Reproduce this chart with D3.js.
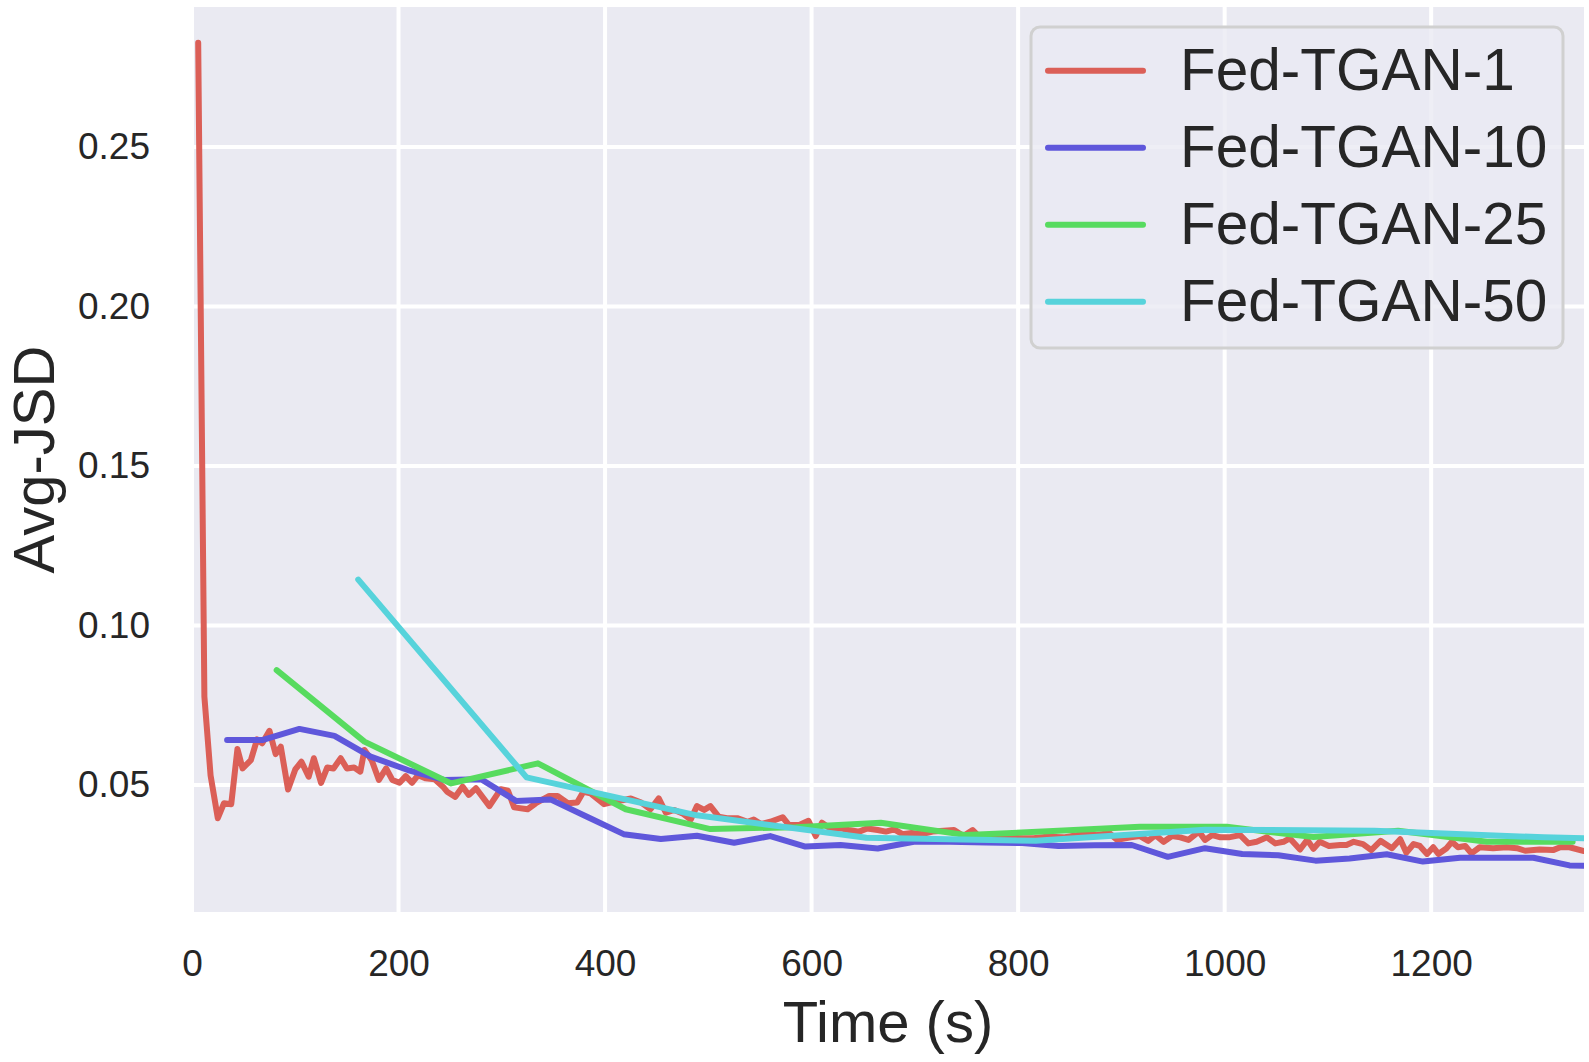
<!DOCTYPE html>
<html>
<head>
<meta charset="utf-8">
<script src="https://cdn.jsdelivr.net/npm/d3@7"></script>
<style>
    body { margin: 0; background: #ffffff; }
    svg { display: block; font-family: "Liberation Sans", Arial, sans-serif; }
    .tick text { fill: #262626; }
</style>
</head>
<body>
<svg id="chart" width="1589" height="1062"></svg>
<script>
// Fed-TGAN-1 (one point every few seconds)
const timeTgan1 = [6, 12, 18, 25, 31, 38, 44, 49, 57, 63, 68, 75, 81, 86, 93, 100, 106, 113, 118, 125,
    131, 137, 144, 150, 157, 163, 167, 174, 181, 188, 194, 201, 207, 213, 219, 226, 235, 243, 247, 255,
    262, 268, 275, 288, 299, 306, 312, 325, 333, 346, 354, 364, 373, 379, 386, 399, 409, 418, 425, 435,
    444, 452, 459, 467, 475, 483, 489, 496, 502, 510, 518, 528, 538, 544, 551, 560, 572, 578, 588, 597,
    604, 610, 618, 628, 636, 646, 654, 664, 672, 680, 688, 697, 707, 717, 728, 738, 747, 756, 763, 776,
    789, 805, 815, 828, 844, 857, 876, 888, 896, 909, 918, 926, 933, 941, 949, 957, 965, 975, 981, 988,
    996, 1004, 1015, 1023, 1031, 1041, 1049, 1057, 1063, 1073, 1080, 1086, 1092, 1101, 1112, 1118, 1125, 1134, 1142, 1151,
    1162, 1170, 1176, 1183, 1189, 1196, 1202, 1207, 1215, 1220, 1226, 1233, 1239, 1247, 1260, 1273, 1283, 1291, 1305, 1318,
    1325, 1334, 1348];
const jsdTgan1 = [0.2827, 0.0777, 0.0530, 0.0396, 0.0443, 0.0440, 0.0613, 0.0552, 0.0578, 0.0643, 0.0631, 0.0670, 0.0597, 0.0620, 0.0486, 0.0549, 0.0573, 0.0526, 0.0584, 0.0507,
    0.0555, 0.0552, 0.0584, 0.0552, 0.0555, 0.0542, 0.0610, 0.0578, 0.0516, 0.0552, 0.0516, 0.0507, 0.0528, 0.0507, 0.0531, 0.0521, 0.0518, 0.0495, 0.0479, 0.0463,
    0.0495, 0.0469, 0.0490, 0.0434, 0.0487, 0.0482, 0.0430, 0.0424, 0.0443, 0.0466, 0.0466, 0.0443, 0.0445, 0.0479, 0.0474, 0.0440, 0.0448, 0.0453, 0.0458, 0.0445,
    0.0424, 0.0458, 0.0413, 0.0422, 0.0411, 0.0392, 0.0434, 0.0422, 0.0434, 0.0401, 0.0396, 0.0396, 0.0385, 0.0392, 0.0378, 0.0385, 0.0399, 0.0375, 0.0375, 0.0388,
    0.0340, 0.0382, 0.0364, 0.0364, 0.0359, 0.0354, 0.0364, 0.0359, 0.0354, 0.0361, 0.0346, 0.0350, 0.0346, 0.0354, 0.0357, 0.0359, 0.0340, 0.0359, 0.0336, 0.0333,
    0.0336, 0.0333, 0.0333, 0.0338, 0.0336, 0.0343, 0.0343, 0.0350, 0.0328, 0.0336, 0.0340, 0.0325, 0.0343, 0.0322, 0.0340, 0.0336, 0.0328, 0.0354, 0.0328, 0.0343,
    0.0336, 0.0336, 0.0343, 0.0317, 0.0322, 0.0336, 0.0317, 0.0322, 0.0333, 0.0298, 0.0328, 0.0300, 0.0322, 0.0309, 0.0312, 0.0312, 0.0322, 0.0315, 0.0296, 0.0325,
    0.0302, 0.0330, 0.0288, 0.0315, 0.0309, 0.0284, 0.0305, 0.0284, 0.0302, 0.0322, 0.0305, 0.0309, 0.0286, 0.0305, 0.0302, 0.0305, 0.0302, 0.0294, 0.0298, 0.0296,
    0.0305, 0.0305, 0.0293];

// Fed-TGAN-10
const timeTgan10 = [34, 68, 104, 138, 173, 209, 244, 280, 314, 347, 383, 418, 454, 489, 525, 560, 594, 628, 664, 699,
    734, 769, 804, 839, 874, 910, 945, 981, 1017, 1052, 1088, 1121, 1157, 1192, 1228, 1263, 1299, 1334, 1369];
const jsdTgan10 = [0.0641, 0.0641, 0.0676, 0.0654, 0.0589, 0.0547, 0.0516, 0.0518, 0.0450, 0.0455, 0.0400, 0.0346, 0.0331, 0.0341, 0.0319, 0.0340, 0.0307, 0.0312, 0.0301, 0.0322,
    0.0322, 0.0320, 0.0318, 0.0309, 0.0311, 0.0312, 0.0275, 0.0302, 0.0284, 0.0280, 0.0263, 0.0270, 0.0283, 0.0260, 0.0272, 0.0272, 0.0272, 0.0248, 0.0246];

// Fed-TGAN-25
const timeTgan25 = [82, 167, 251, 335, 420, 502, 585, 667, 750, 834, 918, 1002, 1086, 1168, 1254, 1337];
const jsdTgan25 = [0.0860, 0.0636, 0.0505, 0.0568, 0.0424, 0.0362, 0.0368, 0.0382, 0.0343, 0.0356, 0.0369, 0.0369, 0.0337, 0.0357, 0.0322, 0.0322];

// Fed-TGAN-50
const timeTgan50 = [161, 324, 489, 653, 817, 981, 1145, 1309, 1348];
const jsdTgan50 = [0.1144, 0.0524, 0.0405, 0.0335, 0.0325, 0.0360, 0.0357, 0.0336, 0.0333];

const seriesNames = ['Fed-TGAN-1', 'Fed-TGAN-10', 'Fed-TGAN-25', 'Fed-TGAN-50'];
const seriesColors = ['#db5f57', '#5f57db', '#57db5f', '#57d3db'];
const xTicks = [0, 200, 400, 600, 800, 1000, 1200];
const yTicks = [0.05, 0.10, 0.15, 0.20, 0.25];

class JsdChart {
    constructor() {
        this.svg = d3.select('#chart');
        this.left = 192;
        this.top = 7;
        this.right = 1584;
        this.bottom = 912;

        // axis limits as seen in the figure
        this.x = d3.scaleLinear().domain([0, 1348]).range([this.left, this.right]);
        this.y = d3.scaleLinear().domain([0.0102, 0.2939]).range([this.bottom, this.top]);

        this.series = [
            { name: seriesNames[0], color: seriesColors[0], t: timeTgan1, v: jsdTgan1 },
            { name: seriesNames[1], color: seriesColors[1], t: timeTgan10, v: jsdTgan10 },
            { name: seriesNames[2], color: seriesColors[2], t: timeTgan25, v: jsdTgan25 },
            { name: seriesNames[3], color: seriesColors[3], t: timeTgan50, v: jsdTgan50 }
        ];

        this.drawBackground();
        this.drawAxes();
        this.drawLines();
        this.drawLegend();
    }

    drawBackground() {
        const w = this.right - this.left;
        const h = this.bottom - this.top;

        this.svg.append('defs').append('clipPath')
            .attr('id', 'plotClip')
            .append('rect')
            .attr('x', this.left)
            .attr('y', this.top)
            .attr('width', w)
            .attr('height', h);

        this.svg.append('rect')
            .attr('x', this.left)
            .attr('y', this.top)
            .attr('width', w)
            .attr('height', h)
            .attr('fill', '#eaeaf2');

        // grid
        const grid = this.svg.append('g').attr('class', 'grid');
        grid.selectAll('.vgrid')
            .data(xTicks)
            .join('line')
            .attr('class', 'vgrid')
            .attr('x1', d => this.x(d))
            .attr('x2', d => this.x(d))
            .attr('y1', this.top)
            .attr('y2', this.bottom)
            .attr('stroke', '#ffffff')
            .attr('stroke-width', 4);

        grid.selectAll('.hgrid')
            .data(yTicks)
            .join('line')
            .attr('class', 'hgrid')
            .attr('x1', this.left)
            .attr('x2', this.right)
            .attr('y1', d => this.y(d))
            .attr('y2', d => this.y(d))
            .attr('stroke', '#ffffff')
            .attr('stroke-width', 4);
    }

    drawAxes() {
        const xAxis = this.svg.append('g')
            .attr('transform', `translate(0,${this.bottom})`)
            .call(d3.axisBottom(this.x).tickValues(xTicks).tickSize(0).tickPadding(38).tickFormat(d3.format('d')));

        const yAxis = this.svg.append('g')
            .attr('transform', `translate(${this.left},0)`)
            .call(d3.axisLeft(this.y).tickValues(yTicks).tickSize(0).tickPadding(42).tickFormat(d3.format('.2f')));

        [xAxis, yAxis].forEach(ax => {
            ax.select('.domain').remove();
            ax.selectAll('text')
                .attr('font-size', 37)
                .attr('font-family', '"Liberation Sans", Arial, sans-serif');
        });

        this.svg.append('text')
            .attr('x', (this.left + this.right) / 2)
            .attr('y', 1042)
            .attr('text-anchor', 'middle')
            .attr('font-size', 58)
            .attr('fill', '#262626')
            .text('Time (s)');

        // nudged right so the text box stays inside the page
        this.svg.append('text')
            .attr('transform', `translate(54,${(this.top + this.bottom) / 2}) rotate(-90)`)
            .attr('text-anchor', 'middle')
            .attr('font-size', 58)
            .attr('fill', '#262626')
            .text('Avg-JSD');
    }

    drawLines() {
        const line = d3.line()
            .x(d => this.x(d[0]))
            .y(d => this.y(d[1]));

        const g = this.svg.append('g').attr('clip-path', 'url(#plotClip)');

        g.selectAll('.series')
            .data(this.series)
            .join('path')
            .attr('class', 'series')
            .attr('d', s => line(s.t.map((t, i) => [t, s.v[i]])))
            .attr('fill', 'none')
            .attr('stroke', s => s.color)
            .attr('stroke-width', 6)
            .attr('stroke-linejoin', 'round')
            .attr('stroke-linecap', 'round');
    }

    drawLegend() {
        const legend = this.svg.append('g').attr('class', 'legend');

        legend.append('rect')
            .attr('x', 1031)
            .attr('y', 27)
            .attr('width', 532)
            .attr('height', 321)
            .attr('rx', 9)
            .attr('fill', '#eaeaf2')
            .attr('fill-opacity', 0.8)
            .attr('stroke', '#d0d0d0')
            .attr('stroke-width', 3);

        const item = legend.selectAll('.item')
            .data(this.series)
            .join('g')
            .attr('class', 'item')
            .attr('transform', (d, i) => `translate(0,${70.7 + i * 77})`);

        item.append('line')
            .attr('x1', 1048)
            .attr('x2', 1143)
            .attr('stroke', d => d.color)
            .attr('stroke-width', 6)
            .attr('stroke-linecap', 'round');

        item.append('text')
            .attr('x', 1180)
            .attr('y', 19)
            .attr('font-size', 58.5)
            .attr('fill', '#262626')
            .text(d => d.name);
    }
}

document.addEventListener('DOMContentLoaded', () => {
    window.jsdChart = new JsdChart();
});
</script>
</body>
</html>
